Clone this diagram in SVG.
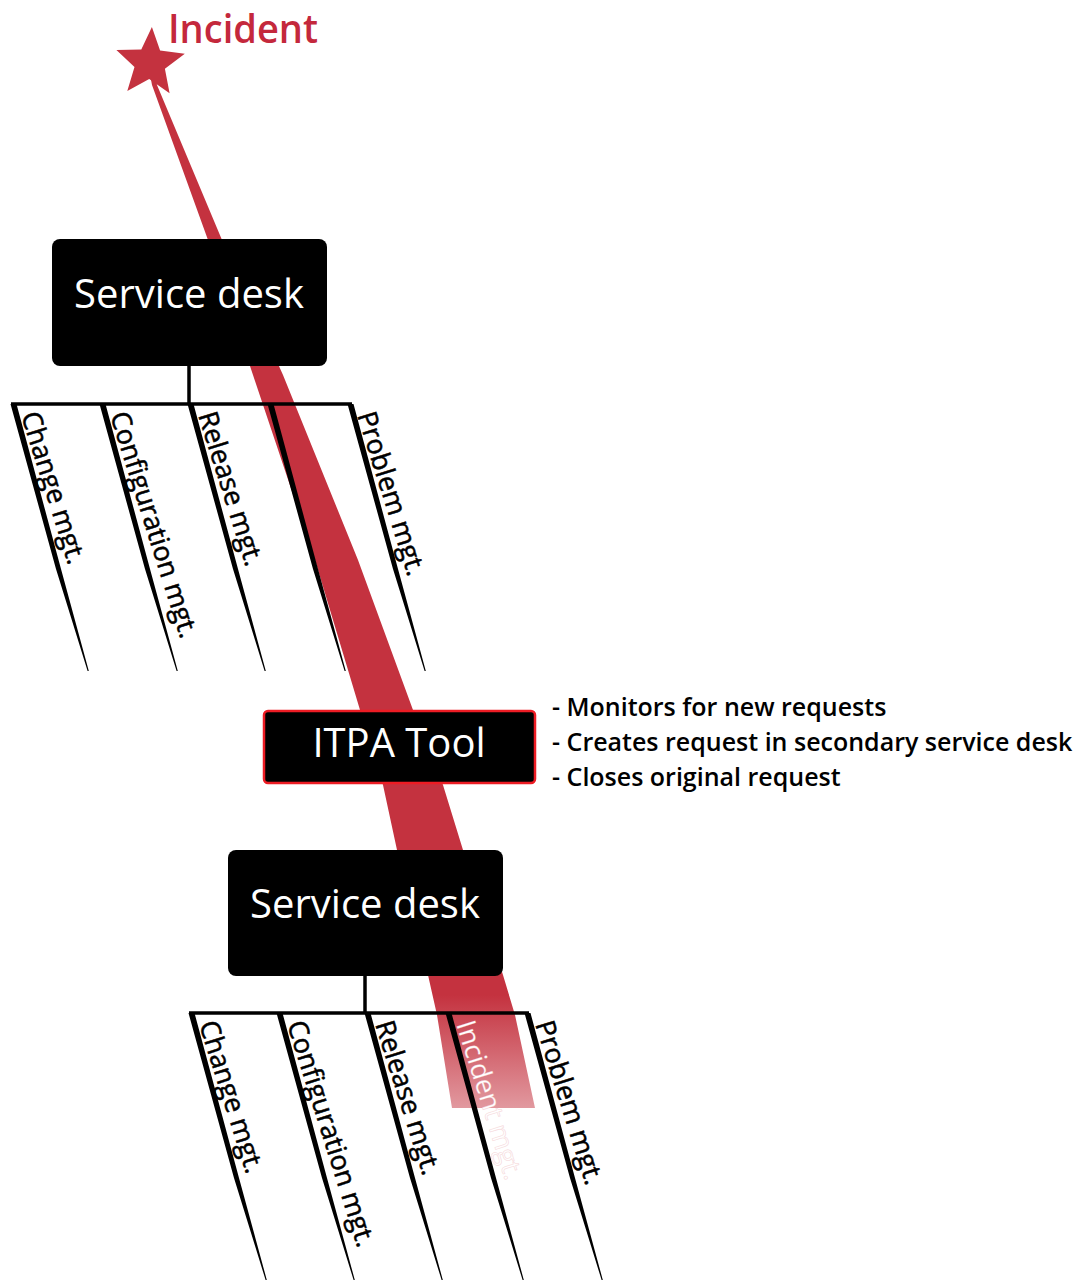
<svg xmlns="http://www.w3.org/2000/svg" width="1076" height="1281" viewBox="0 0 1076 1281">
  <style>
    .box { fill: #000; }
    .boxtext { font-family: "Open Sans", "Liberation Sans", sans-serif; font-size: 40px; fill: #fff; text-anchor: middle; }
    .lbl { font-family: "Open Sans", "Liberation Sans", sans-serif; font-size: 27px; fill: #000; stroke: #000; stroke-width: 0.5; }
    .note { font-family: "Open Sans", "Liberation Sans", sans-serif; font-size: 25px; font-weight: 600; fill: #000; }
    .wire { stroke: #000; stroke-width: 3.5; fill: none; }
    .branch { fill: #000; }
  </style>
  <defs>
    <polygon id="branch" points="-2.5,0 3.5,0 48,165 75.8,267 74.6,267 43,165"/>
    <linearGradient id="fade" gradientUnits="userSpaceOnUse" x1="0" y1="995" x2="0" y2="1108">
      <stop offset="0" stop-color="#c4323f" stop-opacity="1"/>
      <stop offset="1" stop-color="#c4323f" stop-opacity="0.5"/>
    </linearGradient>
  </defs>
  <rect width="1076" height="1281" fill="#fff"/>

  <!-- red incident flow -->
  <g id="incident-flow">
    <polygon fill="url(#fade)" points="148,64 152,85 208,240 253,375 315,560 360,710 383,785 397,850 428,975 437,1015 452,1108 535,1108 515,1015 503,975 463,850 443,785 413,710 358,560 283,375 222,240 157,85 153,64"/>
  </g>

  <!-- connectors -->
  <g id="connectors">
    <line class="wire" x1="189" y1="366" x2="189" y2="404"/>
    <line class="wire" x1="11" y1="404" x2="352" y2="404"/>
    <use href="#branch" class="branch" transform="translate(13,404)"/>
    <use href="#branch" class="branch" transform="translate(102,404)"/>
    <use href="#branch" class="branch" transform="translate(190,404)"/>
    <use href="#branch" class="branch" transform="translate(270,404)"/>
    <use href="#branch" class="branch" transform="translate(350,404)"/>

    <line class="wire" x1="365" y1="976" x2="365" y2="1013"/>
    <line class="wire" x1="189" y1="1013" x2="529" y2="1013"/>
    <use href="#branch" class="branch" transform="translate(191,1013)"/>
    <use href="#branch" class="branch" transform="translate(279,1013)"/>
    <use href="#branch" class="branch" transform="translate(367,1013)"/>
    <use href="#branch" class="branch" transform="translate(448,1013)"/>
    <use href="#branch" class="branch" transform="translate(527,1013)"/>
  </g>

  <!-- incident start -->
  <g id="incident-start">
    <polygon fill="#c4323f" points="151.9,27.1 160.1,50.6 184.8,53.7 164.9,68.7 169.6,93.2 149.2,79.0 127.3,91.0 134.5,67.1 116.4,50.1 141.3,49.6"/>
    <text x="168" y="43" font-family="'Open Sans', 'Liberation Sans', sans-serif" font-size="40" font-weight="600" fill="#c4283c" textLength="150" lengthAdjust="spacingAndGlyphs">Incident</text>
  </g>

  <!-- service desk 1 -->
  <g id="service-desk-1">
    <rect class="box" x="52" y="239" width="275" height="127" rx="8"/>
    <text class="boxtext" x="189" y="308">Service desk</text>
  </g>

  <!-- top tree labels -->
  <g id="top-change"><text class="lbl" transform="translate(21,415) rotate(72.5)">Change mgt.</text></g>
  <g id="top-configuration"><text class="lbl" transform="translate(110,415) rotate(72.5)">Configuration mgt.</text></g>
  <g id="top-release"><text class="lbl" transform="translate(198,415) rotate(72.5)">Release mgt.</text></g>
  <g id="top-problem"><text class="lbl" transform="translate(357,415) rotate(72.5)">Problem mgt.</text></g>

  <!-- ITPA tool -->
  <g id="itpa-tool">
    <rect x="264" y="711" width="271" height="72" rx="4" fill="#000" stroke="#ed1c24" stroke-width="2.5"/>
    <text class="boxtext" x="399" y="757" font-size="39">ITPA Tool</text>
  </g>

  <g id="itpa-notes">
    <text class="note" x="552" y="716">- Monitors for new requests</text>
    <text class="note" x="552" y="751">- Creates request in secondary service desk</text>
    <text class="note" x="552" y="786">- Closes original request</text>
  </g>

  <!-- service desk 2 -->
  <g id="service-desk-2">
    <rect class="box" x="228" y="850" width="275" height="126" rx="8"/>
    <text class="boxtext" x="365" y="918">Service desk</text>
  </g>

  <!-- bottom tree labels -->
  <g id="bottom-change"><text class="lbl" transform="translate(199,1024) rotate(72.5)">Change mgt.</text></g>
  <g id="bottom-configuration"><text class="lbl" transform="translate(287,1024) rotate(72.5)">Configuration mgt.</text></g>
  <g id="bottom-release"><text class="lbl" transform="translate(375,1024) rotate(72.5)">Release mgt.</text></g>
  <g id="bottom-incident"><text class="lbl" transform="translate(456,1024) rotate(72.5)" style="fill:#fff;stroke:#e8a0a8;stroke-opacity:0.35;stroke-width:0.8">Incident mgt.</text></g>
  <g id="bottom-problem"><text class="lbl" transform="translate(535,1024) rotate(72.5)">Problem mgt.</text></g>
</svg>
